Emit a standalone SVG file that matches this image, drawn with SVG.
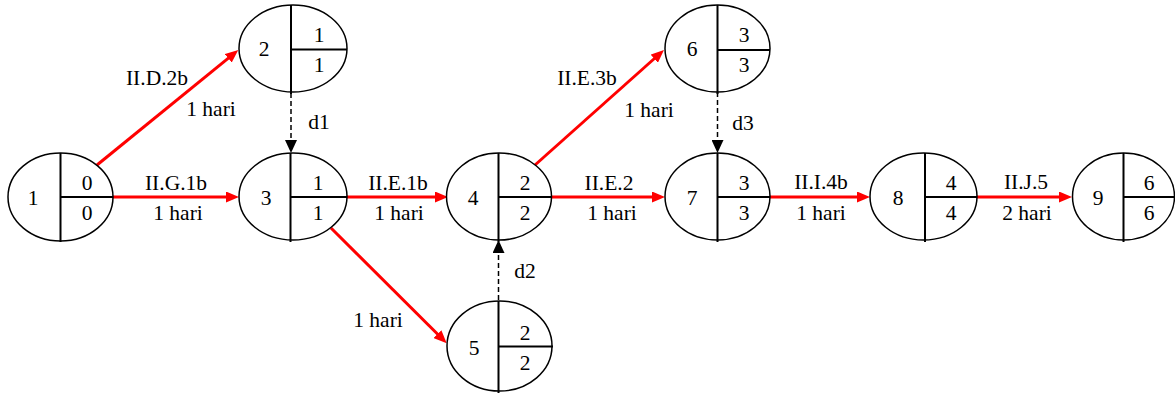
<svg xmlns="http://www.w3.org/2000/svg" width="1175" height="393" viewBox="0 0 1175 393">
<style>
text{font-family:"Liberation Serif","Times New Roman",serif;font-size:21.5px;fill:#000;text-anchor:middle}
.ell{fill:#fff;stroke:#000;stroke-width:1.5}
.div{stroke:#000;stroke-width:2;fill:none}
.act{stroke:#f00;stroke-width:3;fill:none;marker-end:url(#ra)}
.dum{stroke:#000;stroke-width:1.5;stroke-dasharray:5 3;fill:none;marker-end:url(#ba)}
</style>
<defs>
<marker id="ra" viewBox="0 0 13 11" refX="1" refY="5.5" markerWidth="13" markerHeight="11" markerUnits="userSpaceOnUse" orient="auto"><path d="M0,0 L13,5.5 L0,11 z" fill="#f00"/></marker>
<marker id="ba" viewBox="0 0 13 12" refX="1" refY="6" markerWidth="13" markerHeight="12" markerUnits="userSpaceOnUse" orient="auto"><path d="M0,0 L13,6 L0,12 z" fill="#000"/></marker>
</defs>
<g id="connectors">
<line class="act" x1="97" y1="165" x2="229" y2="57.6"/>
<line class="act" x1="113" y1="197" x2="227" y2="197"/>
<line class="dum" x1="291" y1="93" x2="291" y2="141"/>
<line class="act" x1="347" y1="197" x2="436" y2="197"/>
<line class="act" x1="331" y1="228" x2="438.2" y2="334.8"/>
<line class="dum" x1="498.5" y1="300" x2="498.5" y2="252"/>
<line class="act" x1="535" y1="165" x2="655" y2="58"/>
<line class="act" x1="551" y1="197" x2="653" y2="197"/>
<line class="dum" x1="717.5" y1="92" x2="717.5" y2="141"/>
<line class="act" x1="770" y1="197" x2="858" y2="197"/>
<line class="act" x1="977" y1="197" x2="1060" y2="197"/>
<text x="157" y="85">II.D.2b</text>
<text x="211" y="116">1 hari</text>
<text x="176" y="190">II.G.1b</text>
<text x="178" y="220">1 hari</text>
<text x="319" y="129">d1</text>
<text x="398" y="190">II.E.1b</text>
<text x="399" y="220">1 hari</text>
<text x="378" y="327">1 hari</text>
<text x="525" y="278">d2</text>
<text x="587" y="85">II.E.3b</text>
<text x="649" y="117">1 hari</text>
<text x="743" y="130">d3</text>
<text x="609" y="190">II.E.2</text>
<text x="612" y="220">1 hari</text>
<text x="821" y="189">II.I.4b</text>
<text x="821" y="220">1 hari</text>
<text x="1026" y="189">II.J.5</text>
<text x="1027" y="220">2 hari</text>
</g>
<g id="node1"><ellipse class="ell" cx="60.5" cy="197" rx="52.5" ry="44"/><path class="div" d="M60.5,153 V242 M60.5,197 H113"/><text x="33" y="205">1</text><text x="87" y="190">0</text><text x="87" y="220">0</text></g>
<g id="node2"><ellipse class="ell" cx="293" cy="48.5" rx="54" ry="43.5"/><path class="div" d="M291,5 V94 M291,49.5 H347"/><text x="264" y="56">2</text><text x="319" y="42">1</text><text x="319" y="72">1</text></g>
<g id="node3"><ellipse class="ell" cx="293" cy="196.5" rx="54" ry="43.5"/><path class="div" d="M290.5,153 V242 M290.5,197 H347"/><text x="266" y="205">3</text><text x="318" y="190">1</text><text x="318" y="220">1</text></g>
<g id="node4"><ellipse class="ell" cx="499" cy="196.5" rx="52.5" ry="43.5"/><path class="div" d="M498.5,153 V242 M498.5,197 H551.5"/><text x="473" y="205">4</text><text x="525" y="190">2</text><text x="525" y="220">2</text></g>
<g id="node5"><ellipse class="ell" cx="499.5" cy="346" rx="52.5" ry="45"/><path class="div" d="M498.5,301 V393 M498.5,346.5 H553"/><text x="474" y="355">5</text><text x="525" y="340">2</text><text x="525" y="370">2</text></g>
<g id="node6"><ellipse class="ell" cx="717.5" cy="48.5" rx="52.5" ry="43.5"/><path class="div" d="M717.5,5 V94 M717.5,50 H770"/><text x="692" y="56">6</text><text x="744" y="42">3</text><text x="744" y="72">3</text></g>
<g id="node7"><ellipse class="ell" cx="717.5" cy="196.5" rx="52.5" ry="43.5"/><path class="div" d="M717.5,153 V242 M717.5,197 H770"/><text x="692" y="205">7</text><text x="744" y="190">3</text><text x="744" y="220">3</text></g>
<g id="node8"><ellipse class="ell" cx="923.5" cy="196.5" rx="53.5" ry="43.5"/><path class="div" d="M925,153 V242 M925,197 H977"/><text x="898" y="205">8</text><text x="951" y="190">4</text><text x="951" y="220">4</text></g>
<g id="node9"><ellipse class="ell" cx="1123.5" cy="196.5" rx="51" ry="43.5"/><path class="div" d="M1123.5,153 V242 M1123.5,197 H1174.5"/><text x="1098" y="205">9</text><text x="1149" y="190">6</text><text x="1149" y="220">6</text></g>
</svg>
